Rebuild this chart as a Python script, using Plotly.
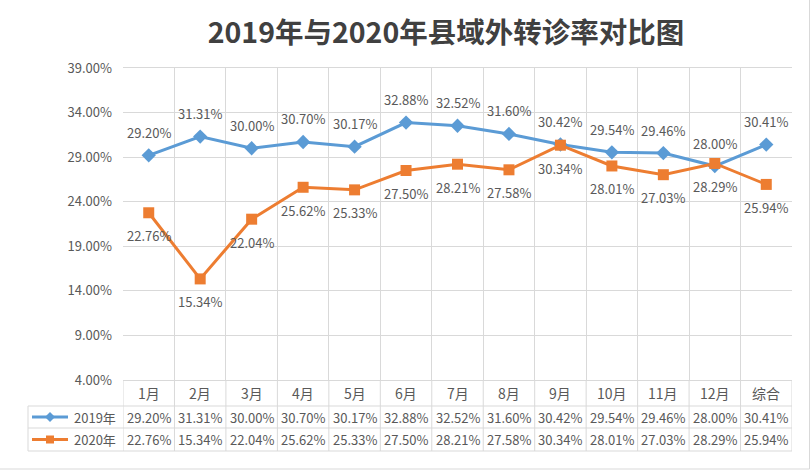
import plotly.graph_objects as go

categories = ["1月", "2月", "3月", "4月", "5月", "6月", "7月", "8月", "9月", "10月", "11月", "12月", "综合"]
series_names = ["2019年", "2020年"]
values_2019 = [29.20, 31.31, 30.00, 30.70, 30.17, 32.88, 32.52, 31.60, 30.42, 29.54, 29.46, 28.00, 30.41]
values_2020 = [22.76, 15.34, 22.04, 25.62, 25.33, 27.50, 28.21, 27.58, 30.34, 28.01, 27.03, 28.29, 25.94]
y_ticks = [4, 9, 14, 19, 24, 29, 34, 39]
title_text = "2019年与2020年县域外转诊率对比图"

BLUE = "#5B9BD5"
ORANGE = "#ED7D31"
GRAY_TXT = "#595959"
GRID = "#D9D9D9"
FONT = "Noto Sans CJK SC"

W, H = 811, 472
L, R, T, B = 123, 19, 68, 92
pw = W - L - R
ph = H - T - B


def px_x(px):
    return (px - L) / pw


def px_y(py):
    return (H - B - py) / ph


fig = go.Figure()
fig.add_trace(go.Scatter(x=categories, y=values_2019, mode="lines+markers", name=series_names[0],
                         line=dict(color=BLUE, width=3),
                         marker=dict(symbol="diamond", size=11, color=BLUE)))
fig.add_trace(go.Scatter(x=categories, y=values_2020, mode="lines+markers", name=series_names[1],
                         line=dict(color=ORANGE, width=3),
                         marker=dict(symbol="square", size=11, color=ORANGE)))

annotations = []
lab_font = dict(family=FONT, size=13, color=GRAY_TXT)
for c, v in zip(categories, values_2019):
    annotations.append(dict(x=c, y=v, xref="x", yref="y", text=f"{v:.2f}%", showarrow=False,
                            yshift=23, font=lab_font))
for c, v in zip(categories, values_2020):
    annotations.append(dict(x=c, y=v, xref="x", yref="y", text=f"{v:.2f}%", showarrow=False,
                            yshift=-23, font=lab_font))

# data table
row_y = {"hdr": px_y(393), "s1": px_y(417), "s2": px_y(439.5)}
for c in categories:
    annotations.append(dict(x=c, y=row_y["hdr"], xref="x", yref="paper", text=c, showarrow=False,
                            xanchor="center", yanchor="middle",
                            font=dict(family=FONT, size=14, color=GRAY_TXT)))
for c, v in zip(categories, values_2019):
    annotations.append(dict(x=c, y=row_y["s1"], xref="x", yref="paper", text=f"{v:.2f}%", showarrow=False,
                            xanchor="center", yanchor="middle", font=lab_font))
for c, v in zip(categories, values_2020):
    annotations.append(dict(x=c, y=row_y["s2"], xref="x", yref="paper", text=f"{v:.2f}%", showarrow=False,
                            xanchor="center", yanchor="middle", font=lab_font))
for name, ry in zip(series_names, [row_y["s1"], row_y["s2"]]):
    annotations.append(dict(x=px_x(95), y=ry, xref="paper", yref="paper", text=name, showarrow=False,
                            xanchor="center", yanchor="middle",
                            font=dict(family=FONT, size=13, color=GRAY_TXT)))

shapes = []
line_style = dict(color=GRID, width=1)
bottom = px_y(451)
# vertical lines through table
for i in range(len(categories) + 1):
    shapes.append(dict(type="line", xref="x", yref="paper", x0=i - 0.5, x1=i - 0.5, y0=bottom, y1=0,
                       line=line_style, layer="below"))
# horizontal table lines
for py in [406, 428, 451]:
    shapes.append(dict(type="line", xref="paper", yref="paper", x0=px_x(28), x1=1, y0=px_y(py), y1=px_y(py),
                       line=line_style))
shapes.append(dict(type="line", xref="paper", yref="paper", x0=px_x(28), x1=px_x(28), y0=px_y(406), y1=bottom,
                   line=line_style))
# legend keys in table
for color, cyp, sym in [(BLUE, 417, "diamond"), (ORANGE, 439.5, "square")]:
    shapes.append(dict(type="line", xref="paper", yref="paper", x0=px_x(32), x1=px_x(68), y0=px_y(cyp), y1=px_y(cyp),
                       line=dict(color=color, width=3)))
    if sym == "diamond":
        path = (f"M {px_x(50)},{px_y(cyp - 5)} L {px_x(55)},{px_y(cyp)} "
                f"L {px_x(50)},{px_y(cyp + 5)} L {px_x(45)},{px_y(cyp)} Z")
        shapes.append(dict(type="path", xref="paper", yref="paper", path=path, fillcolor=color,
                           line=dict(color=color, width=0)))
    else:
        shapes.append(dict(type="rect", xref="paper", yref="paper", x0=px_x(46), x1=px_x(54),
                           y0=px_y(cyp + 4), y1=px_y(cyp - 4), fillcolor=color, line=dict(color=color, width=0)))
# outer border (right & bottom)
shapes.append(dict(type="line", xref="paper", yref="paper", x0=px_x(809.5), x1=px_x(809.5), y0=px_y(469), y1=px_y(0),
                   line=line_style))
shapes.append(dict(type="line", xref="paper", yref="paper", x0=px_x(0), x1=px_x(809.5), y0=px_y(469), y1=px_y(469),
                   line=line_style))

fig.update_layout(
    width=W, height=H,
    margin=dict(l=L, r=R, t=T, b=B),
    paper_bgcolor="white", plot_bgcolor="white",
    showlegend=False,
    title=dict(text=f"<b>{title_text}</b>", xref="container", x=446 / W, xanchor="center",
               yref="container", y=1 - 33 / H, yanchor="middle",
               font=dict(family=FONT, size=28.5, color="#404040")),
    xaxis=dict(type="category", range=[-0.5, len(categories) - 0.5], showticklabels=False,
               showgrid=True, gridcolor=GRID, tickson="boundaries", ticks="",
               showline=True, linecolor=GRID, mirror=True, zeroline=False, fixedrange=True),
    yaxis=dict(range=[4, 39], tickvals=y_ticks, ticktext=[f"{v:.2f}%" for v in y_ticks],
               showgrid=True, gridcolor=GRID, zeroline=False, ticks="", ticklabelstandoff=10,
               tickfont=dict(family=FONT, size=13, color=GRAY_TXT), showline=False, fixedrange=True),
    annotations=annotations,
    shapes=shapes,
)

fig.write_html("out.html", config={"displayModeBar": False},
               post_script="document.body.style.margin='0px';")
